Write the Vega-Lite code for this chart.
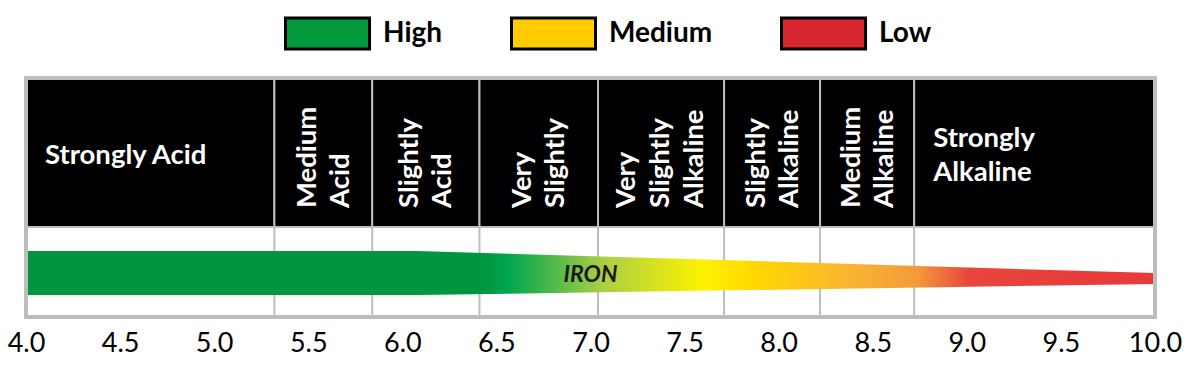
{
  "$schema": "https://vega.github.io/schema/vega-lite/v6.json",
  "width": 1129,
  "height": 239,
  "autosize": {"type": "none"},
  "padding": {"left": 26, "top": 78, "right": 37, "bottom": 58},
  "background": "white",
  "config": {"view": {"stroke": null}, "font": "Lato"},
  "datasets": {
    "zones": [
      {"name": "Strongly Acid", "start": 4.0, "end": 5.32},
      {"name": "Medium Acid", "start": 5.32, "end": 5.84},
      {"name": "Slightly Acid", "start": 5.84, "end": 6.41},
      {"name": "Very Slightly", "start": 6.41, "end": 7.04},
      {"name": "Very Slightly Alkaline", "start": 7.04, "end": 7.71},
      {"name": "Slightly Alkaline", "start": 7.71, "end": 8.22},
      {"name": "Medium Alkaline", "start": 8.22, "end": 8.72},
      {"name": "Strongly Alkaline", "start": 8.72, "end": 10.0}
    ],
    "band": [
      {"nutrient": "IRON", "ph": 4.0, "top": 27.6, "bottom": 9.2},
      {"nutrient": "IRON", "ph": 6.08, "top": 27.6, "bottom": 9.2},
      {"nutrient": "IRON", "ph": 10.0, "top": 18.4, "bottom": 13.8}
    ],
    "levels": [
      {"level": "High"},
      {"level": "Medium"},
      {"level": "Low"}
    ]
  },
  "layer": [
    {
      "data": {"name": "levels"},
      "mark": {"type": "rect", "opacity": 0},
      "encoding": {
        "color": {
          "field": "level",
          "type": "nominal",
          "scale": {"domain": ["High", "Medium", "Low"], "range": ["#009a3e", "#ffcc00", "#d7262e"]},
          "legend": {
            "title": null,
            "orient": "none",
            "direction": "horizontal",
            "legendX": 258,
            "legendY": -88,
            "symbolType": "M-1,-0.369L1,-0.369L1,0.369L-1,0.369Z",
            "symbolSize": 7056,
            "symbolStrokeColor": "black",
            "symbolStrokeWidth": 3,
            "symbolOpacity": 1,
            "labelFont": "Lato",
            "labelFontWeight": "bold",
            "labelFontSize": 28,
            "labelColor": "black",
            "labelOffset": 12,
            "columnPadding": 62,
            "labelLimit": 300
          }
        }
      }
    },
    {
      "data": {"name": "zones"},
      "mark": {"type": "rect", "fill": "black", "stroke": "#bdbdbd", "strokeWidth": 2},
      "encoding": {
        "x": {"field": "start", "type": "quantitative", "scale": {"domain": [4, 10], "nice": false, "zero": false},
          "axis": {
            "values": [4, 4.5, 5, 5.5, 6, 6.5, 7, 7.5, 8, 8.5, 9, 9.5, 10],
            "format": ".1f",
            "title": null,
            "grid": false,
            "ticks": false,
            "domain": false,
            "labelFont": "Lato",
            "labelFontSize": 27,
            "labelColor": "black",
            "labelPadding": 13,
            "labelFlush": false,
            "labelOverlap": false
          }
        },
        "x2": {"field": "end"},
        "y": {"datum": 37.7, "type": "quantitative", "scale": {"domain": [0, 100], "nice": false}, "axis": null},
        "y2": {"datum": 100}
      }
    },
    {
      "data": {"name": "zones"},
      "transform": [{"filter": "datum.end < 10"}],
      "mark": {"type": "rule", "color": "#bdbdbd", "strokeWidth": 2},
      "encoding": {
        "x": {"field": "end", "type": "quantitative"},
        "y": {"datum": 0, "type": "quantitative"},
        "y2": {"datum": 37.7}
      }
    },
    {
      "data": {"name": "band"},
      "mark": {
        "type": "area",
        "color": {
          "gradient": "linear",
          "x1": 0, "y1": 0, "x2": 1, "y2": 0,
          "stops": [
            {"offset": 0, "color": "#00963f"},
            {"offset": 0.405, "color": "#00963f"},
            {"offset": 0.428, "color": "#00a651"},
            {"offset": 0.51, "color": "#a8cf45"},
            {"offset": 0.6, "color": "#fff200"},
            {"offset": 0.645, "color": "#ffd800"},
            {"offset": 0.735, "color": "#f9b233"},
            {"offset": 0.79, "color": "#f39a3a"},
            {"offset": 0.835, "color": "#e8453c"},
            {"offset": 1, "color": "#e8393a"}
          ]
        }
      },
      "encoding": {
        "x": {"field": "ph", "type": "quantitative"},
        "y": {"field": "top", "type": "quantitative"},
        "y2": {"field": "bottom"}
      }
    },
    {
      "data": {"name": "band"},
      "transform": [{"aggregate": [{"op": "max", "field": "ph", "as": "maxph"}], "groupby": ["nutrient"]}],
      "mark": {"type": "text", "font": "Lato", "fontSize": 23, "fontWeight": "bold", "fontStyle": "italic", "color": "#1a1a1a", "align": "center", "baseline": "middle"},
      "encoding": {
        "x": {"datum": 7.0, "type": "quantitative"},
        "y": {"datum": 17.5, "type": "quantitative"},
        "text": {"field": "nutrient"}
      }
    },
    {
      "data": {"name": "zones"},
      "transform": [{"filter": "datum.name === 'Strongly Acid'"}],
      "mark": {"type": "text", "font": "Lato", "fontSize": 27.5, "fontWeight": "bold", "color": "white", "align": "left", "baseline": "middle", "dx": 19},
      "encoding": {
        "x": {"field": "start", "type": "quantitative"},
        "y": {"datum": 67.4, "type": "quantitative"},
        "text": {"field": "name"}
      }
    },
    {
      "data": {"name": "zones"},
      "transform": [{"filter": "datum.name === 'Strongly Alkaline'"}],
      "mark": {"type": "text", "font": "Lato", "fontSize": 27.5, "fontWeight": "bold", "color": "white", "align": "left", "baseline": "middle", "dx": 19, "dy": -17, "lineBreak": " ", "lineHeight": 34},
      "encoding": {
        "x": {"field": "start", "type": "quantitative"},
        "y": {"datum": 67.4, "type": "quantitative"},
        "text": {"field": "name"}
      }
    },
    {
      "data": {"name": "zones"},
      "transform": [
        {"filter": "datum.name !== 'Strongly Acid' && datum.name !== 'Strongly Alkaline' && datum.name !== 'Very Slightly Alkaline'"},
        {"calculate": "(datum.start + datum.end) / 2", "as": "mid"}
      ],
      "mark": {"type": "text", "font": "Lato", "fontSize": 27.5, "fontWeight": "bold", "color": "white", "align": "left", "baseline": "middle", "angle": 270, "lineBreak": " ", "lineHeight": 33, "dy": -15.5},
      "encoding": {
        "x": {"field": "mid", "type": "quantitative"},
        "y": {"datum": 45.6, "type": "quantitative"},
        "text": {"field": "name"}
      }
    },
    {
      "data": {"name": "zones"},
      "transform": [
        {"filter": "datum.name === 'Very Slightly Alkaline'"},
        {"calculate": "(datum.start + datum.end) / 2", "as": "mid"}
      ],
      "mark": {"type": "text", "font": "Lato", "fontSize": 27.5, "fontWeight": "bold", "color": "white", "align": "left", "baseline": "middle", "angle": 270, "lineBreak": " ", "lineHeight": 34, "dy": -34},
      "encoding": {
        "x": {"field": "mid", "type": "quantitative"},
        "y": {"datum": 45.6, "type": "quantitative"},
        "text": {"field": "name"}
      }
    },
    {
      "data": {"values": [{"frame": "plot"}]},
      "mark": {"type": "rect", "filled": false, "stroke": "#bdbdbd", "strokeWidth": 4},
      "encoding": {
        "x": {"datum": 4, "type": "quantitative"},
        "x2": {"datum": 10},
        "y": {"datum": 0, "type": "quantitative"},
        "y2": {"datum": 100}
      }
    }
  ]
}
